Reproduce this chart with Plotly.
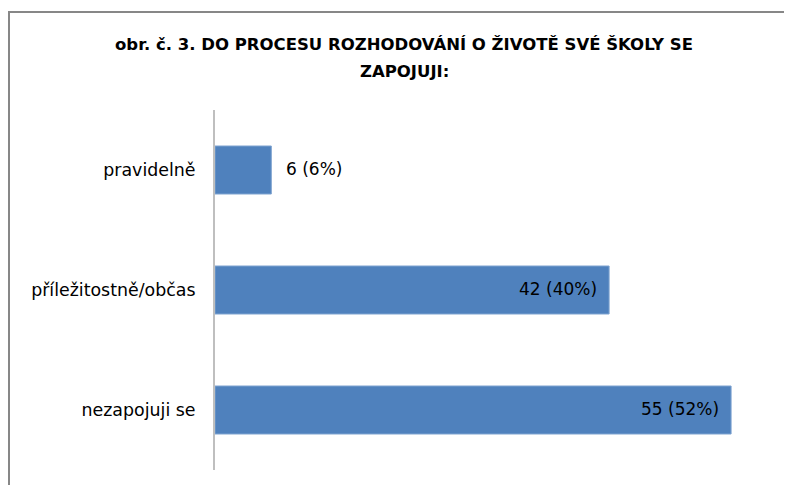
import plotly.graph_objects as go

categories = ["pravidelně", "příležitostně/občas", "nezapojuji se"]
values = [6, 42, 55]
percents = [6, 40, 52]
labels = [f"{v} ({p}%)" for v, p in zip(values, percents)]
title_lines = ["obr. č. 3. DO PROCESU ROZHODOVÁNÍ O ŽIVOTĚ SVÉ ŠKOLY SE", "ZAPOJUJI:"]

font_family = "'DejaVu Sans', sans-serif"

# page body adds an 8px offset; figure coordinates below compensate for it
L, R, T, B = 207, 22, 102, 23
W, H = 792, 485
pw = W - L - R
ph = H - T - B


def px_x(fx):
    """figure pixel x -> paper x"""
    return (fx - L) / pw


def px_y(fy):
    """figure pixel y (from top) -> paper y"""
    return (H - B - fy) / ph


fig = go.Figure(go.Bar(
    y=categories, x=values, orientation="h",
    marker=dict(color="#4F81BD", line=dict(color="#7FA3D0", width=1)),
    width=0.4, hoverinfo="skip",
))

annotations = []
for c, v, lab in zip(categories, values, labels):
    inside = v > 20
    annotations.append(dict(
        x=v, y=c, xref="x", yref="y", text=lab, showarrow=False,
        xanchor="right" if inside else "left",
        xshift=-10 if inside else 13, yshift=1,
        font=dict(size=17, family=font_family, color="#000000"),
    ))

for line, fy in zip(title_lines, [37, 64]):
    annotations.append(dict(
        x=px_x(396), y=px_y(fy), xref="paper", yref="paper", text=f"<b>{line}</b>",
        showarrow=False, xanchor="center", yanchor="middle",
        font=dict(size=16.5, family=font_family, color="#000000"),
    ))

fig.update_layout(
    width=W, height=H,
    margin=dict(l=L, r=R, t=T, b=B, autoexpand=False),
    paper_bgcolor="white", plot_bgcolor="white",
    showlegend=False,
    font=dict(family=font_family, size=17, color="#000000"),
    xaxis=dict(range=[0, 60], visible=False, fixedrange=True),
    yaxis=dict(categoryorder="array", categoryarray=categories, autorange="reversed",
               showline=True, linecolor="#BFBFBF", linewidth=2, ticks="",
               ticklabelstandoff=14, showgrid=False, zeroline=False,
               tickfont=dict(size=17.4, family=font_family, color="#000000")),
    annotations=annotations,
    shapes=[
        dict(type="line", xref="paper", yref="paper",
             x0=px_x(1), x1=px_x(1), y0=px_y(H + 20), y1=px_y(3),
             line=dict(color="#878787", width=2)),
        dict(type="line", xref="paper", yref="paper",
             x0=px_x(1), x1=px_x(W - 1), y0=px_y(4), y1=px_y(4),
             line=dict(color="#878787", width=2)),
    ],
)

fig.write_html("out.html")
